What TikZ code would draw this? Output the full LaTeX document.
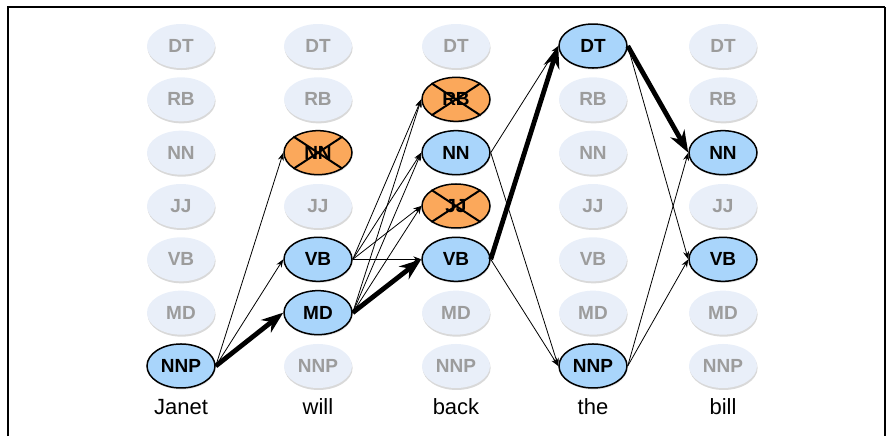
\documentclass[tikz,border=0pt]{standalone}
\usepackage{fontspec}
\setmainfont{Liberation Sans}
\usetikzlibrary{arrows.meta,shapes.geometric,shadows}

\definecolor{dimfill}{HTML}{E9EFF9}
\definecolor{dimtext}{HTML}{9C9C9C}
\definecolor{onfill}{HTML}{A9D5FB}
\definecolor{cutfill}{HTML}{FBA85B}

\begin{document}
\begin{tikzpicture}
	[
	x=0.5pt, y=-0.5pt,
	tag/.style={ellipse, minimum width=34pt, minimum height=22pt, inner sep=0pt,
		font=\fontsize{9.5}{10}\selectfont\bfseries},
	tagdim/.style={tag, fill=dimfill, text=dimtext,
		drop shadow={shadow xshift=0.3pt, shadow yshift=-1pt, opacity=0.3}},
	tagon/.style={tag, draw, line width=0.75pt, fill=onfill,
		drop shadow={shadow xshift=0.3pt, shadow yshift=-0.8pt, opacity=0.2}},
	tagcut/.style={tag, draw, line width=0.75pt, fill=cutfill,
		drop shadow={shadow xshift=0.3pt, shadow yshift=-0.8pt, opacity=0.2}},
	tagkind/.style={#1},
	word/.style={font=\fontsize{11}{13}\selectfont},
	hop/.style={-{Stealth[length=4pt,width=3pt]}, line width=0.4pt},
	best/.style={-{Stealth[length=11pt,width=8pt]}, line width=2.4pt},
	]
		\useasboundingbox (0,0) rectangle (896,436);
		
		% frame
		\draw[line width=1pt] (8,436) -- (8,7) -- (885,7);
		\draw[line width=0.6pt] (885,7) -- (885,436);
		
		% Janet
		\foreach \t/\s [count=\r] in {DT/tagdim,RB/tagdim,NN/tagdim,JJ/tagdim,VB/tagdim,MD/tagdim,NNP/tagon}
			\node[tagkind/.expand once=\s] (jan-\t) at (181, {46+53.33*(\r-1)}) {\t};
		\node[word] (jan) at (181, 407) {Janet};
		
		% will
		\foreach \t/\s [count=\r] in {DT/tagdim,RB/tagdim,NN/tagcut,JJ/tagdim,VB/tagon,MD/tagon,NNP/tagdim}
			\node[tagkind/.expand once=\s] (wil-\t) at (318, {46+53.33*(\r-1)}) {\t};
		\node[word] (wil) at (318, 407) {will};
		
		% back
		\foreach \t/\s [count=\r] in {DT/tagdim,RB/tagcut,NN/tagon,JJ/tagcut,VB/tagon,MD/tagdim,NNP/tagdim}
			\node[tagkind/.expand once=\s] (bak-\t) at (456, {46+53.33*(\r-1)}) {\t};
		\node[word] (bak) at (456, 407) {back};
		
		% the
		\foreach \t/\s [count=\r] in {DT/tagon,RB/tagdim,NN/tagdim,JJ/tagdim,VB/tagdim,MD/tagdim,NNP/tagon}
			\node[tagkind/.expand once=\s] (the-\t) at (593, {46+53.33*(\r-1)}) {\t};
		\node[word] (the) at (593, 407) {the};
		
		% bill
		\foreach \t/\s [count=\r] in {DT/tagdim,RB/tagdim,NN/tagon,JJ/tagdim,VB/tagon,MD/tagdim,NNP/tagdim}
			\node[tagkind/.expand once=\s] (bil-\t) at (723, {46+53.33*(\r-1)}) {\t};
		\node[word] (bil) at (723, 407) {bill};
		
		% pruned states
		\foreach \n in {wil-NN,bak-RB,bak-JJ}
			\draw[line width=1pt] (\n.north west) -- (\n.south east) (\n.north east) -- (\n.south west);
		
		% transitions
		\foreach \from/\to in {jan-NNP/wil-NN,jan-NNP/wil-VB,
			wil-VB/bak-RB,wil-VB/bak-NN,wil-VB/bak-JJ,wil-VB/bak-VB,
			wil-MD/bak-RB,wil-MD/bak-NN,wil-MD/bak-JJ,
			bak-NN/the-DT,bak-NN/the-NNP,bak-VB/the-NNP,
			the-DT/bil-VB,the-NNP/bil-NN,the-NNP/bil-VB}
			\draw[hop] (\from.east) -- (\to.west);
		
		% best path
		\foreach \from/\to in {jan-NNP/wil-MD,wil-MD/bak-VB,bak-VB/the-DT,the-DT/bil-NN}
			\draw[best] (\from.east) -- (\to.west);
		
	\end{tikzpicture}
\end{document}
